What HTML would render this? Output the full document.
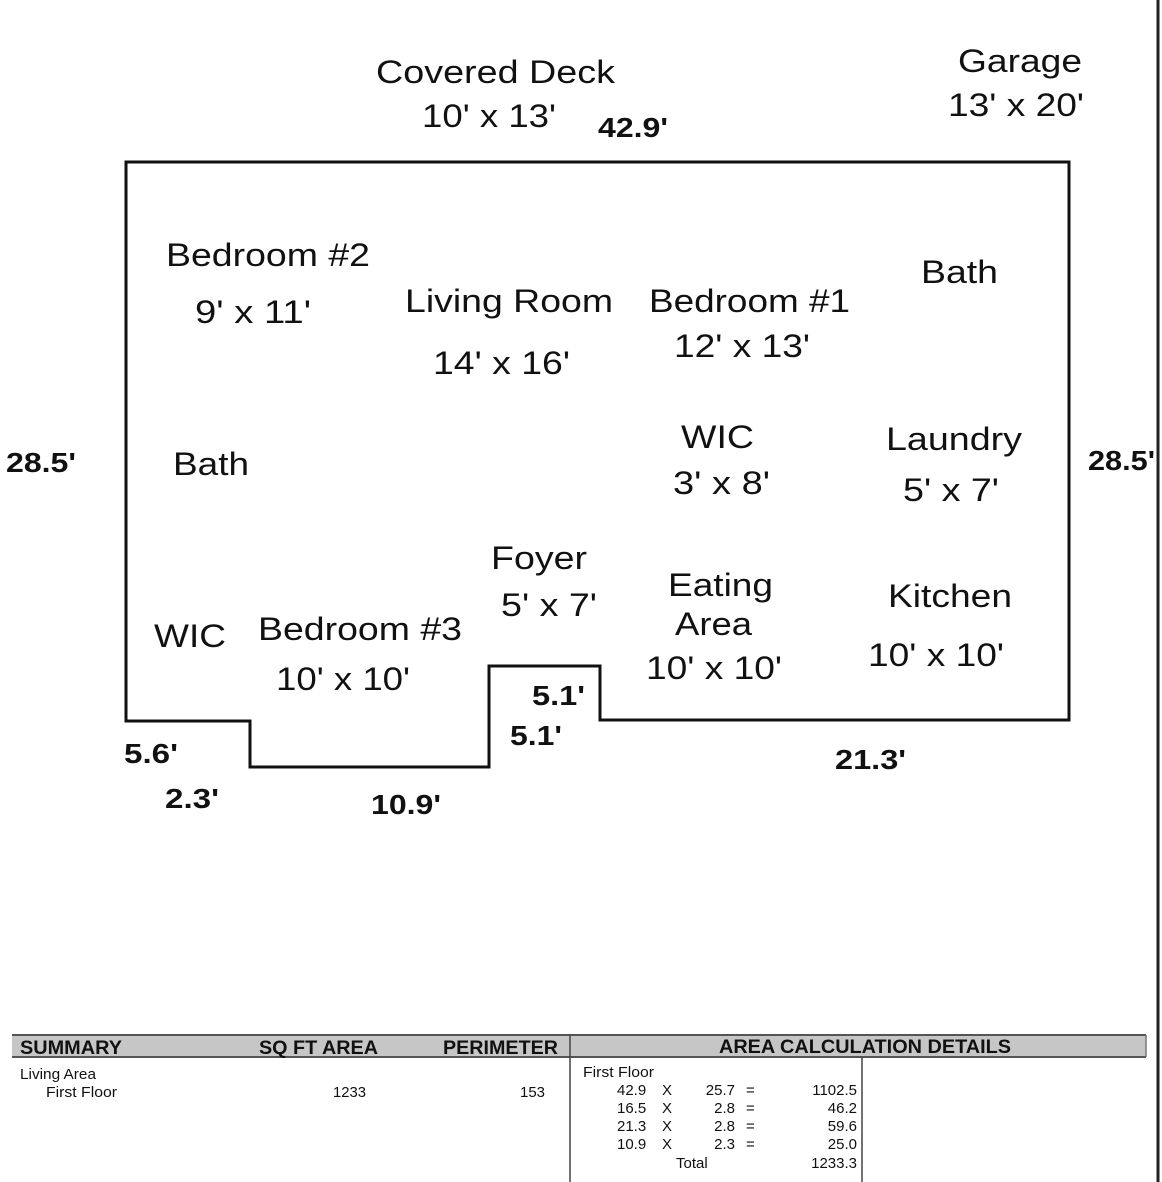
<!DOCTYPE html>
<html><head><meta charset="utf-8"><style>
html,body{margin:0;padding:0;background:#fff;}
svg{display:block;}
text{font-family:"Liberation Sans",Arial,sans-serif;fill:#111;}
.r{font-size:32px;}
.b{font-size:28px;font-weight:bold;}
.h{font-size:19px;font-weight:bold;}
.s{font-size:15px;}
</style></head><body>
<svg width="1162" height="1182" viewBox="0 0 1162 1182" xmlns="http://www.w3.org/2000/svg">
<rect width="1162" height="1182" fill="#fff"/>
<line x1="1158" y1="0" x2="1158" y2="1182" stroke="#222" stroke-width="3"/>
<polygon points="126,162 1069,162 1069,720 600,720 600,666 489,666 489,767 250,767 250,721 126,721" fill="none" stroke="#111" stroke-width="3"/>

<text class="r" x="376" y="83" textLength="239" lengthAdjust="spacingAndGlyphs">Covered Deck</text>
<text class="r" x="422" y="127" textLength="134" lengthAdjust="spacingAndGlyphs">10' x 13'</text>
<text class="b" x="598" y="137" textLength="70" lengthAdjust="spacingAndGlyphs">42.9'</text>
<text class="r" x="958" y="72" textLength="124" lengthAdjust="spacingAndGlyphs">Garage</text>
<text class="r" x="948" y="116" textLength="136" lengthAdjust="spacingAndGlyphs">13' x 20'</text>
<text class="r" x="166" y="266" textLength="204" lengthAdjust="spacingAndGlyphs">Bedroom #2</text>
<text class="r" x="195" y="323" textLength="116" lengthAdjust="spacingAndGlyphs">9' x 11'</text>
<text class="r" x="405" y="312" textLength="208" lengthAdjust="spacingAndGlyphs">Living Room</text>
<text class="r" x="433" y="374" textLength="137" lengthAdjust="spacingAndGlyphs">14' x 16'</text>
<text class="r" x="649" y="312" textLength="201" lengthAdjust="spacingAndGlyphs">Bedroom #1</text>
<text class="r" x="674" y="357" textLength="136" lengthAdjust="spacingAndGlyphs">12' x 13'</text>
<text class="r" x="921" y="283" textLength="77" lengthAdjust="spacingAndGlyphs">Bath</text>
<text class="b" x="6" y="472" textLength="70" lengthAdjust="spacingAndGlyphs">28.5'</text>
<text class="r" x="173" y="475" textLength="76" lengthAdjust="spacingAndGlyphs">Bath</text>
<text class="r" x="681" y="448" textLength="73" lengthAdjust="spacingAndGlyphs">WIC</text>
<text class="r" x="673" y="494" textLength="97" lengthAdjust="spacingAndGlyphs">3' x 8'</text>
<text class="r" x="886" y="450" textLength="136" lengthAdjust="spacingAndGlyphs">Laundry</text>
<text class="r" x="903" y="501" textLength="96" lengthAdjust="spacingAndGlyphs">5' x 7'</text>
<text class="b" x="1088" y="470" textLength="67" lengthAdjust="spacingAndGlyphs">28.5'</text>
<text class="r" x="491" y="569" textLength="96" lengthAdjust="spacingAndGlyphs">Foyer</text>
<text class="r" x="501" y="616" textLength="96" lengthAdjust="spacingAndGlyphs">5' x 7'</text>
<text class="r" x="668" y="596" textLength="105" lengthAdjust="spacingAndGlyphs">Eating</text>
<text class="r" x="675" y="635" textLength="77" lengthAdjust="spacingAndGlyphs">Area</text>
<text class="r" x="646" y="679" textLength="136" lengthAdjust="spacingAndGlyphs">10' x 10'</text>
<text class="r" x="888" y="607" textLength="124" lengthAdjust="spacingAndGlyphs">Kitchen</text>
<text class="r" x="868" y="666" textLength="136" lengthAdjust="spacingAndGlyphs">10' x 10'</text>
<text class="r" x="154" y="647" textLength="72" lengthAdjust="spacingAndGlyphs">WIC</text>
<text class="r" x="258" y="640" textLength="204" lengthAdjust="spacingAndGlyphs">Bedroom #3</text>
<text class="r" x="276" y="690" textLength="134" lengthAdjust="spacingAndGlyphs">10' x 10'</text>
<text class="b" x="532" y="705" textLength="53" lengthAdjust="spacingAndGlyphs">5.1'</text>
<text class="b" x="510" y="745" textLength="52" lengthAdjust="spacingAndGlyphs">5.1'</text>
<text class="b" x="124" y="763" textLength="54" lengthAdjust="spacingAndGlyphs">5.6'</text>
<text class="b" x="165" y="808" textLength="54" lengthAdjust="spacingAndGlyphs">2.3'</text>
<text class="b" x="371" y="814" textLength="70" lengthAdjust="spacingAndGlyphs">10.9'</text>
<text class="b" x="835" y="769" textLength="71" lengthAdjust="spacingAndGlyphs">21.3'</text>

<!-- table -->
<rect x="12" y="1035" width="1134" height="22" fill="#c6c6c6"/>
<line x1="12" y1="1035" x2="1146" y2="1035" stroke="#555" stroke-width="2"/>
<line x1="12" y1="1057" x2="1146" y2="1057" stroke="#555" stroke-width="2"/>
<line x1="1146" y1="1035" x2="1146" y2="1057" stroke="#777" stroke-width="1.5"/>
<line x1="570" y1="1035" x2="570" y2="1182" stroke="#444" stroke-width="1.5"/>
<line x1="862" y1="1057" x2="862" y2="1182" stroke="#444" stroke-width="1.5"/>
<text class="h" x="20" y="1054" textLength="102" lengthAdjust="spacingAndGlyphs">SUMMARY</text>
<text class="h" x="259" y="1054" textLength="119" lengthAdjust="spacingAndGlyphs">SQ FT AREA</text>
<text class="h" x="443" y="1054" textLength="115" lengthAdjust="spacingAndGlyphs">PERIMETER</text>
<text class="h" x="719" y="1053" textLength="292" lengthAdjust="spacingAndGlyphs">AREA CALCULATION DETAILS</text>
<text class="s" x="20" y="1079" textLength="76" lengthAdjust="spacingAndGlyphs">Living Area</text>
<text class="s" x="46" y="1097" textLength="71" lengthAdjust="spacingAndGlyphs">First Floor</text>
<text class="s" x="333" y="1097" textLength="33" lengthAdjust="spacingAndGlyphs">1233</text>
<text class="s" x="520" y="1097" textLength="25" lengthAdjust="spacingAndGlyphs">153</text>
<text class="s" x="583" y="1077" textLength="71" lengthAdjust="spacingAndGlyphs">First Floor</text>
<g class="s">
<text class="s" x="617" y="1095">42.9</text><text class="s" x="662" y="1095">X</text><text class="s" x="735" y="1095" text-anchor="end">25.7</text><text class="s" x="746" y="1095">=</text><text class="s" x="857" y="1095" text-anchor="end">1102.5</text>
<text class="s" x="617" y="1113">16.5</text><text class="s" x="662" y="1113">X</text><text class="s" x="735" y="1113" text-anchor="end">2.8</text><text class="s" x="746" y="1113">=</text><text class="s" x="857" y="1113" text-anchor="end">46.2</text>
<text class="s" x="617" y="1131">21.3</text><text class="s" x="662" y="1131">X</text><text class="s" x="735" y="1131" text-anchor="end">2.8</text><text class="s" x="746" y="1131">=</text><text class="s" x="857" y="1131" text-anchor="end">59.6</text>
<text class="s" x="617" y="1149">10.9</text><text class="s" x="662" y="1149">X</text><text class="s" x="735" y="1149" text-anchor="end">2.3</text><text class="s" x="746" y="1149">=</text><text class="s" x="857" y="1149" text-anchor="end">25.0</text>
<text class="s" x="676" y="1168">Total</text><text class="s" x="857" y="1168" text-anchor="end">1233.3</text>
</g>
</svg>
</body></html>
